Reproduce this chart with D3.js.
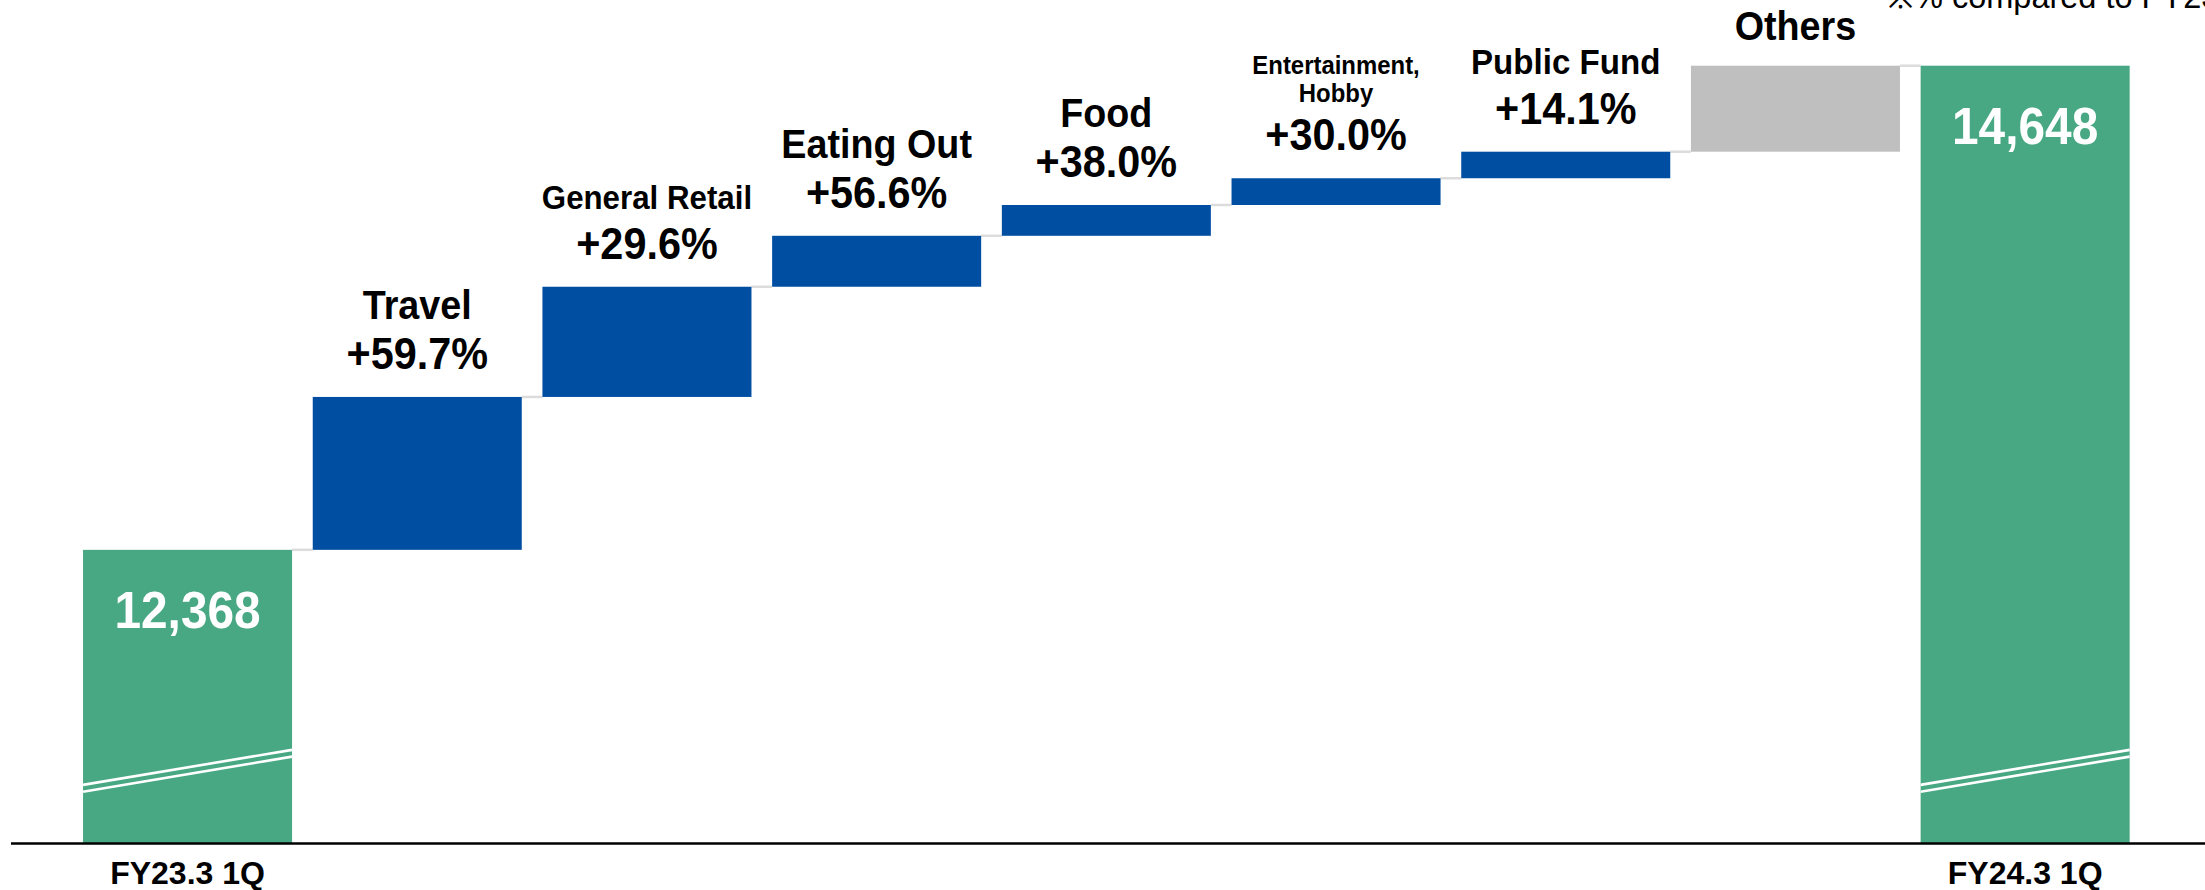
<!DOCTYPE html>
<html>
<head>
<meta charset="utf-8">
<script src="https://cdn.jsdelivr.net/npm/d3@7"></script>
<style>
  html, body { margin: 0; padding: 0; background: #fff; overflow: hidden; }
  svg { display: block; font-family: "Liberation Sans", Arial, sans-serif; }
</style>
</head>
<body>
<svg id="chart" width="2205" height="890"></svg>
<script>
// Quarterly transaction volume bridge: FY23.3 1Q -> FY24.3 1Q
const categories = ["FY23.3 1Q", "Travel", "General Retail", "Eating Out", "Food",
                    "Entertainment, Hobby", "Public Fund", "Others", "FY24.3 1Q"];
const startTotal = 12368;
const endTotal = 14648;
const increments = [720, 519, 240, 145, 126, 125, 405];
const growthLabels = ["+59.7%", "+29.6%", "+56.6%", "+38.0%", "+30.0%", "+14.1%", ""];
const nameLines = [["Travel"], ["General Retail"], ["Eating Out"], ["Food"],
                   ["Entertainment,", "Hobby"], ["Public Fund"], ["Others"]];
const nameSizes = [41, 34, 41, 41, 26, 36, 41];
const axisFloor = 10985;          // value at the (broken) baseline
const breakMark = [11245, 11410]; // break line runs from left value to right value
const noteText = "※% compared to FY23.3 1Q";

const COLORS = { total: "#48a884", up: "#004ea2", other: "#bfbfbf", link: "#dcdcdc" };
const SQUEEZE = 0.92;

const svg = d3.select("#chart");

const x = d3.scaleBand()
  .domain(categories)
  .range([72.7, 2140])
  .paddingInner(0.09)
  .paddingOuter(0.045);

const y = d3.scaleLinear()
  .domain([axisFloor, endTotal])
  .range([843.5, 65.7]);

// Build waterfall rows
const rows = [];
rows.push({ cat: categories[0], lo: axisFloor, hi: startTotal, type: "total", value: startTotal });
let run = startTotal;
increments.forEach((inc, i) => {
  rows.push({ cat: categories[i + 1], lo: run, hi: run + inc, type: i === increments.length - 1 ? "other" : "up",
              growth: growthLabels[i], name: nameLines[i], nameSize: nameSizes[i] });
  run += inc;
});
rows.push({ cat: categories[categories.length - 1], lo: axisFloor, hi: endTotal, type: "total", value: endTotal });

// Connectors between consecutive bars
const links = rows.slice(0, -1).map((r, i) => ({ from: r, to: rows[i + 1], level: r.hi }));
svg.append("g").selectAll("line").data(links).join("line")
  .attr("x1", d => x(d.from.cat) + x.bandwidth())
  .attr("x2", d => x(d.to.cat))
  .attr("y1", d => y(d.level))
  .attr("y2", d => y(d.level))
  .attr("stroke", COLORS.link)
  .attr("stroke-width", 2.5);

// Bars
svg.append("g").selectAll("rect").data(rows).join("rect")
  .attr("x", d => x(d.cat))
  .attr("width", x.bandwidth())
  .attr("y", d => y(d.hi))
  .attr("height", d => y(d.lo) - y(d.hi))
  .attr("fill", d => COLORS[d.type]);

// Axis-break marks on the two total bars
const totals = rows.filter(d => d.type === "total");
const offs = [-16, 16];
totals.forEach(t => {
  offs.forEach(o => {
    svg.append("line")
      .attr("x1", x(t.cat)).attr("x2", x(t.cat) + x.bandwidth())
      .attr("y1", y(breakMark[0] + o)).attr("y2", y(breakMark[1] + o))
      .attr("stroke", "#fff").attr("stroke-width", 2.6);
  });
});

// Baseline
svg.append("line")
  .attr("x1", 11).attr("x2", 2205)
  .attr("y1", y(axisFloor)).attr("y2", y(axisFloor))
  .attr("stroke", "#000").attr("stroke-width", 2.5);

function label(g, cx, cy, text, size, weight, fill, anchor, squeeze) {
  const s = squeeze == null ? SQUEEZE : squeeze;
  g.append("text")
    .attr("transform", `translate(${cx},${cy}) scale(${s},1)`)
    .attr("text-anchor", anchor || "middle")
    .attr("font-size", size)
    .attr("font-weight", weight)
    .attr("fill", fill)
    .text(text);
}

const lg = svg.append("g");

// Category names and growth rates above the step bars
rows.filter(d => d.type !== "total").forEach(d => {
  const cx = x(d.cat) + x.bandwidth() / 2;
  const top = y(d.hi);
  if (d.growth) {
    const pctY = top - 28;
    label(lg, cx, pctY, d.growth, 45, "bold", "#000");
    if (d.name.length === 2) {
      label(lg, cx, pctY - 76, d.name[0], d.nameSize, "bold", "#000");
      label(lg, cx, pctY - 48, d.name[1], d.nameSize, "bold", "#000");
    } else {
      label(lg, cx, pctY - 50, d.name[0], d.nameSize, "bold", "#000");
    }
  } else {
    label(lg, cx, top - 26, d.name[0], d.nameSize, "bold", "#000");
  }
});

// Totals inside the green bars
totals.forEach(t => {
  const cx = x(t.cat) + x.bandwidth() / 2;
  label(lg, cx, y(t.hi) + 78, d3.format(",")(t.value), 52, "bold", "#fff");
});

// Category labels under the baseline
[categories[0], categories[categories.length - 1]].forEach(c => {
  label(lg, x(c) + x.bandwidth() / 2, 884, c, 32, "bold", "#000", "middle", 1);
});

// Footnote (top right)
label(lg, 1887, 8, noteText, 32.5, "normal", "#000", "start", 1);
</script>
</body>
</html>
